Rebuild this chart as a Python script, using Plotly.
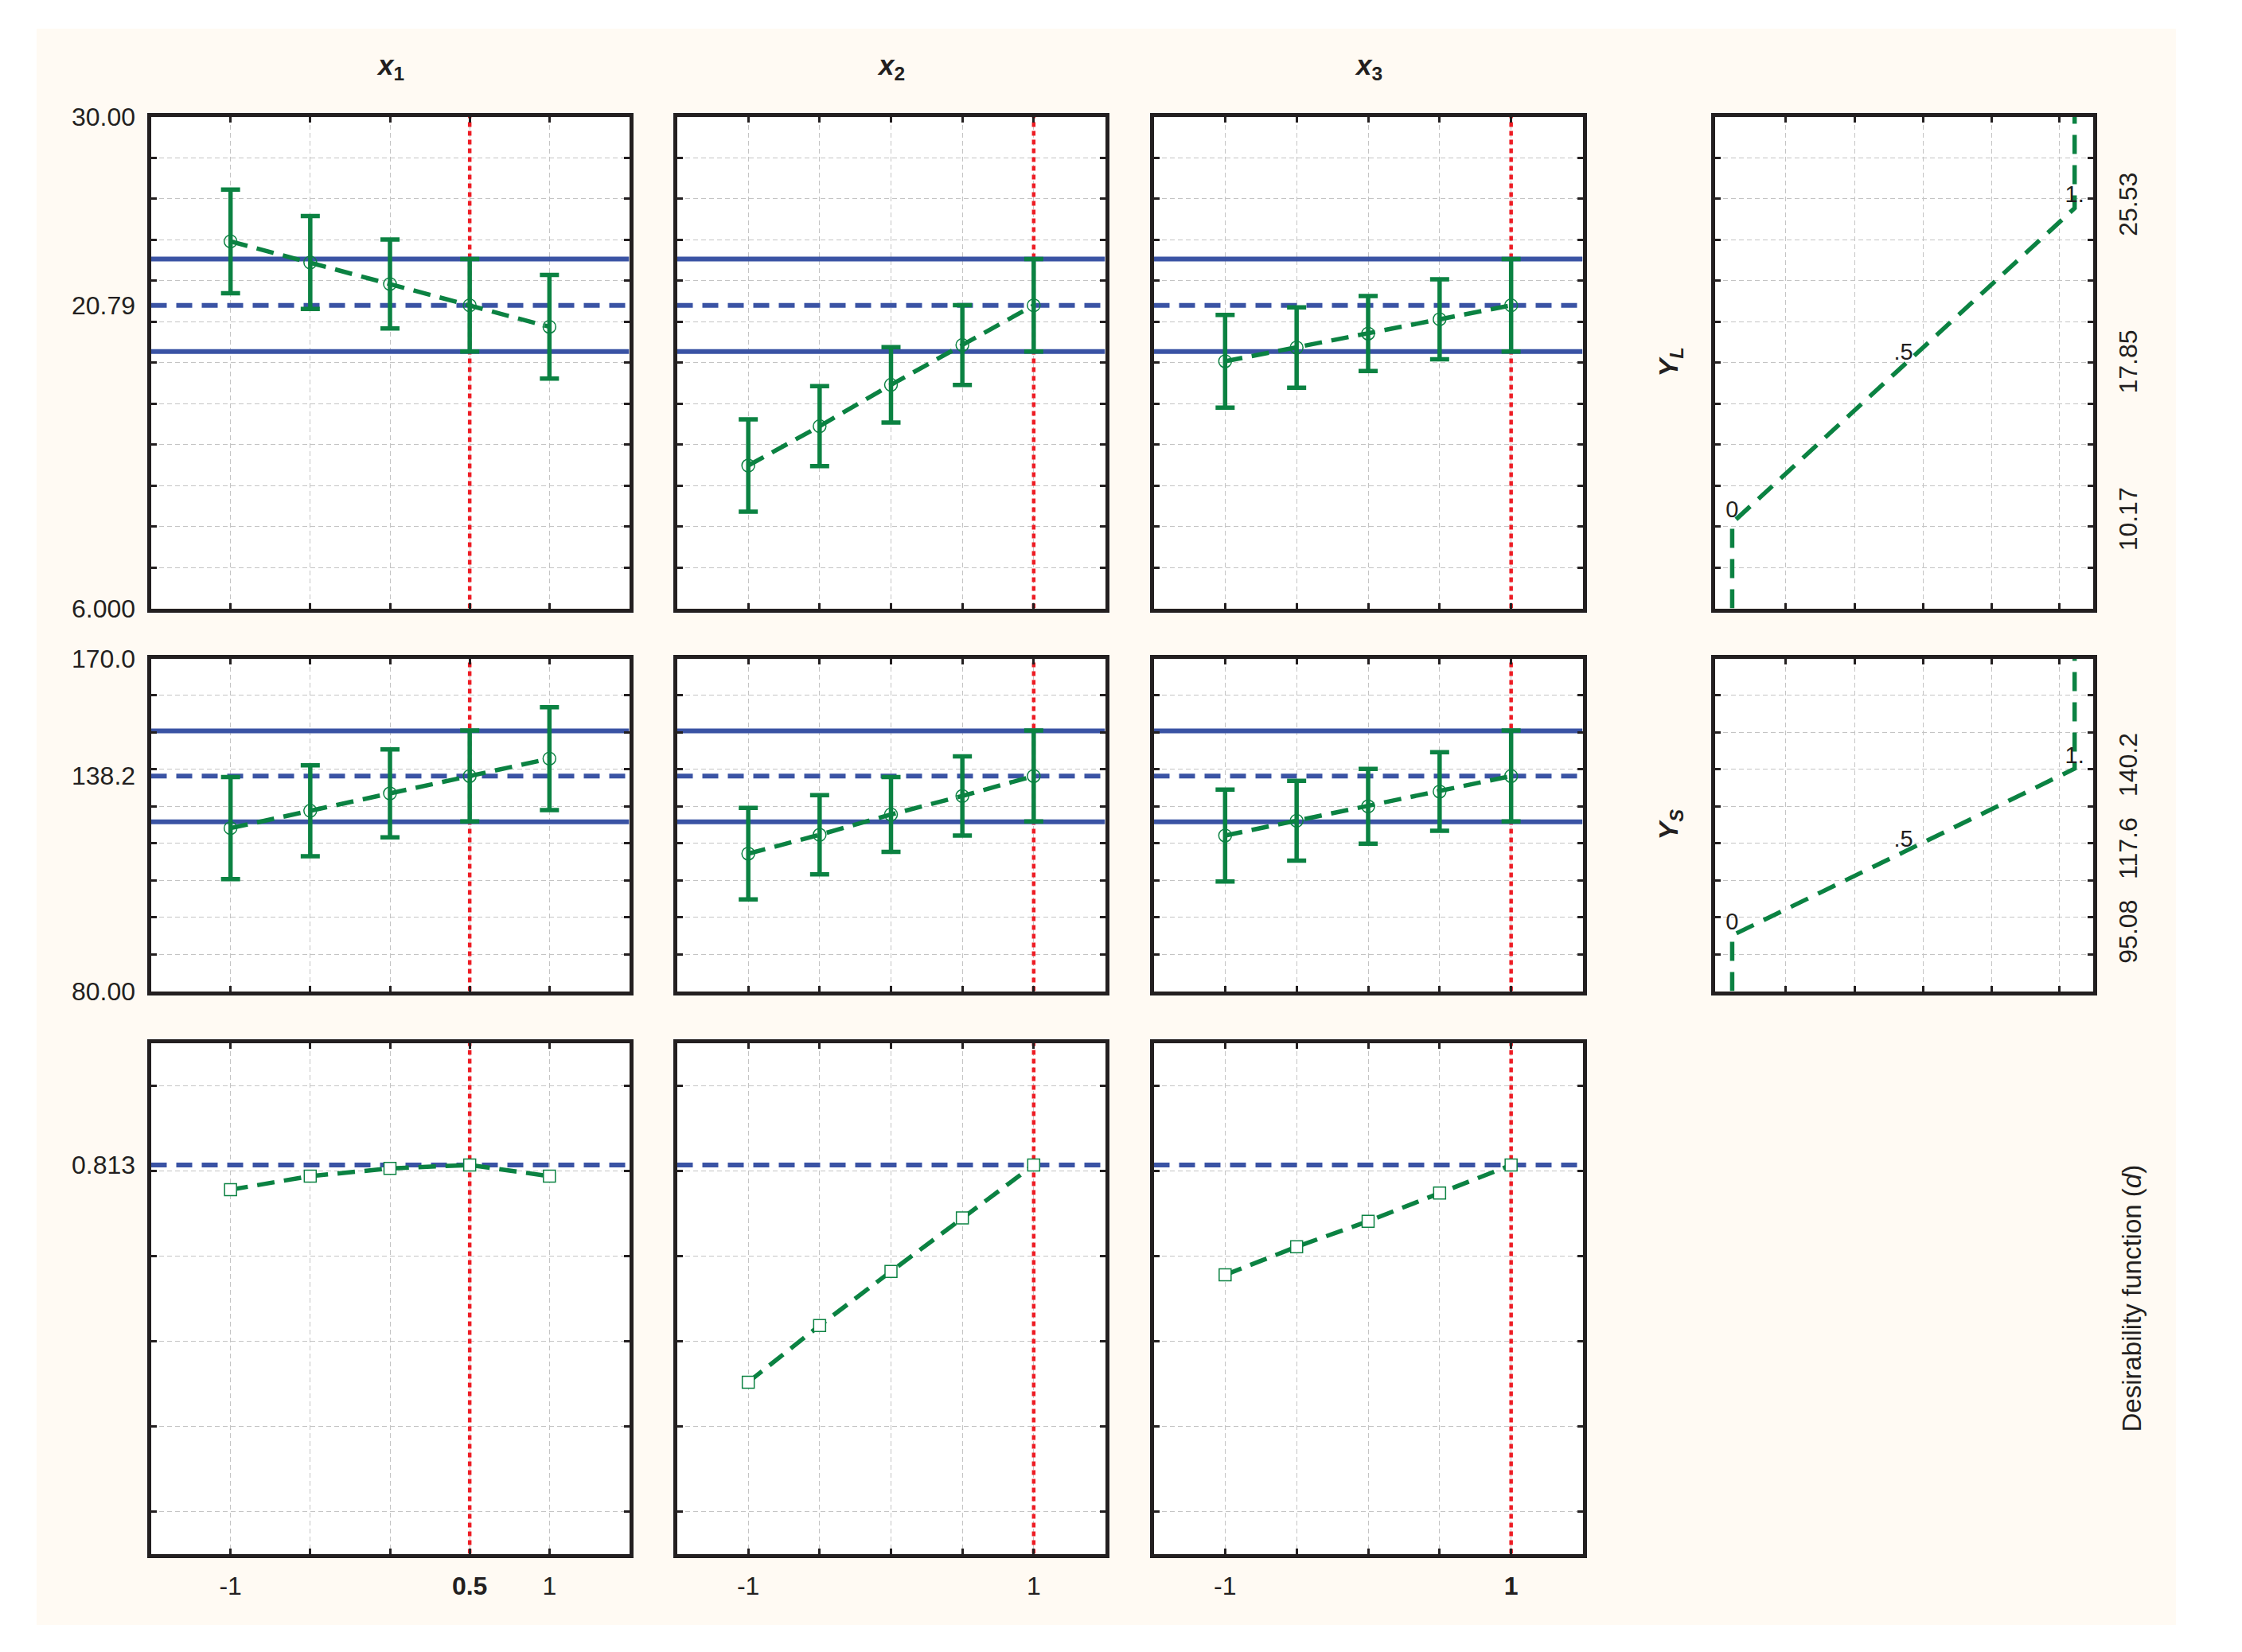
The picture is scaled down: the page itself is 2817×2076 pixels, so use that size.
import plotly.graph_objects as go

# page (reference) size and the default 8px body margin of the html page
W, H = 2817, 2076
OFF = 8
FW, FH = W - 2 * OFF, H - 2 * OFF

# ---------------- data ----------------
levels = [-1, -0.5, 0, 0.5, 1]
factor_range = [-1.5, 1.5]
current_levels = [0.5, 1, 1]
x_tick_text = [["-1", "", "", "<b>0.5</b>", "1"],
               ["-1", "", "", "", "1"],
               ["-1", "", "", "", "<b>1</b>"]]
factor_titles = ["<b><i>x</i><sub>1</sub></b>", "<b><i>x</i><sub>2</sub></b>", "<b><i>x</i><sub>3</sub></b>"]

# Response Y_L
yl_x1 = [23.91, 22.88, 21.83, 20.79, 19.74]
yl_x1_ci = [2.53, 2.27, 2.17, 2.26, 2.53]
yl_x2 = [12.97, 14.89, 16.91, 18.85, 20.79]
yl_x2_ci = [2.25, 1.95, 1.84, 1.95, 2.26]
yl_x3 = [18.06, 18.73, 19.41, 20.11, 20.79]
yl_x3_ci = [2.26, 1.96, 1.83, 1.95, 2.26]
yl_current = 20.79
yl_limits = [18.53, 23.05]
yl_range = [6.0, 30.0]
yl_ticks = [6.0, 20.79, 30.0]
yl_tick_text = ["6.000", "20.79", "30.00"]
yl_grid = [8, 10, 12, 14, 16, 18, 20, 22, 24, 26, 28]

# Response Y_S
ys_x1 = [124.1, 128.8, 133.5, 138.2, 142.9]
ys_x1_ci = [13.8, 12.3, 11.9, 12.3, 13.9]
ys_x2 = [117.2, 122.3, 127.8, 132.8, 138.2]
ys_x2_ci = [12.4, 10.7, 10.1, 10.7, 12.3]
ys_x3 = [122.1, 126.1, 130.0, 134.0, 138.2]
ys_x3_ci = [12.45, 10.78, 10.11, 10.64, 12.3]
ys_current = 138.2
ys_limits = [125.8, 150.4]
ys_range = [80.0, 170.0]
ys_ticks = [80.0, 138.2, 170.0]
ys_tick_text = ["80.00", "138.2", "170.0"]
ys_grid = [90, 100, 110, 120, 130, 140, 150, 160]

# Overall desirability d
d_x1 = [0.755, 0.787, 0.805, 0.813, 0.787]
d_x2 = [0.303, 0.436, 0.563, 0.689, 0.813]
d_x3 = [0.555, 0.621, 0.681, 0.747, 0.813]
d_current = 0.813
d_range = [-0.1, 1.1]
d_ticks = [0.813]
d_tick_text = ["0.813"]
d_grid = [0.0, 0.2, 0.4, 0.6, 0.8, 1.0]

# Desirability functions of responses
desir_levels = [0, 0.5, 1]
desir_labels = ["0", ".5", "1."]
yl_desir_values = [10.17, 17.85, 25.53]
ys_desir_values = [95.08, 117.6, 140.2]
yl_desir_text = ["10.17", "17.85", "25.53"]
ys_desir_text = ["95.08", "117.6", "140.2"]
desir_axis_range = [-0.051, 1.053]
desir_grid = [0.155, 0.357, 0.557, 0.757, 0.955]

response_titles = ["<b><i>Y</i><sub><i>L</i></sub></b>", "<b><i>Y</i><sub><i>S</i></sub></b>"]
d_title = "Desirability function (<i>d</i>)"

# ---------------- style ----------------
FONT = "Liberation Sans, Arial, sans-serif"
FRAME = "#231F20"
GRID = "#C4C4C4"
GREEN = "#0B8242"
BLUE = "#3A53A4"
RED = "#EE1D25"
CREAM = "#FFFAF3"
TICK_SIZE = 32

# panel frames in page pixels (centre of the frame line)
col_px = [(187, 793), (848, 1391), (1447, 1991), (2152, 2632)]
row_px = [(144, 767), (825, 1248), (1308, 1955)]
INSET = 2.5


def fx(px):
    return (px - OFF) / FW


def fy(py):
    return 1 - (py - OFF) / FH


def xdom(c):
    return [fx(col_px[c][0] + INSET), fx(col_px[c][1] - INSET)]


def ydom(r):
    return [fy(row_px[r][1] - INSET), fy(row_px[r][0] + INSET)]


def aid(n):
    return "" if n == 1 else str(n)


fig = go.Figure()
layout = {}
shapes = []
annotations = []

base_axis = dict(showline=True, linewidth=5, linecolor=FRAME, mirror="ticks", zeroline=False,
                 automargin=False, fixedrange=True,
                 tickfont=dict(family=FONT, size=TICK_SIZE, color=FRAME))
grid_style = dict(showgrid=True, gridcolor=GRID, gridwidth=1, griddash="6px,4px")
tick_style = dict(ticks="inside", ticklen=7, tickwidth=3, tickcolor=FRAME)

rows = [
    dict(series=[(yl_x1, yl_x1_ci), (yl_x2, yl_x2_ci), (yl_x3, yl_x3_ci)], current=yl_current,
         limits=yl_limits, rng=yl_range, ticks=yl_ticks, text=yl_tick_text, grid=yl_grid,
         desir=yl_desir_values, desir_text=yl_desir_text, title=response_titles[0]),
    dict(series=[(ys_x1, ys_x1_ci), (ys_x2, ys_x2_ci), (ys_x3, ys_x3_ci)], current=ys_current,
         limits=ys_limits, rng=ys_range, ticks=ys_ticks, text=ys_tick_text, grid=ys_grid,
         desir=ys_desir_values, desir_text=ys_desir_text, title=response_titles[1]),
]

line_dash = "22px,12px"


def add_reference_lines(xa, ya, cur_x, y_rng, cur_y, limits):
    # red dotted vertical line at the current factor level
    fig.add_trace(go.Scatter(x=[cur_x, cur_x], y=y_rng, xaxis=xa, yaxis=ya, mode="lines",
                             line=dict(color=RED, width=4.5, dash="6px,5px"),
                             showlegend=False, hoverinfo="skip"))
    for lim in limits:
        fig.add_trace(go.Scatter(x=factor_range, y=[lim, lim], xaxis=xa, yaxis=ya, mode="lines",
                                 line=dict(color=BLUE, width=6), showlegend=False, hoverinfo="skip"))
    fig.add_trace(go.Scatter(x=factor_range, y=[cur_y, cur_y], xaxis=xa, yaxis=ya, mode="lines",
                             line=dict(color=BLUE, width=6, dash="20px,12px"),
                             showlegend=False, hoverinfo="skip"))


for r, row in enumerate(rows):
    for c in range(4):
        n = r * 4 + c + 1
        xa, ya = "x" + aid(n), "y" + aid(n)
        if c < 3:
            layout["xaxis" + aid(n)] = dict(base_axis, domain=xdom(c), anchor=ya, range=factor_range,
                                            tickmode="array", tickvals=levels, ticktext=x_tick_text[c],
                                            showticklabels=False, **tick_style, **grid_style)
            layout["yaxis" + aid(n)] = dict(base_axis, domain=ydom(r), anchor=xa, range=row["rng"],
                                            tickmode="array", tickvals=row["ticks"], ticktext=row["text"],
                                            showticklabels=(c == 0), ticks="", showgrid=False,
                                            ticklabelstandoff=8,
                                            minor=dict(tickmode="array", tickvals=row["grid"], **tick_style,
                                                       **grid_style))
            add_reference_lines(xa, ya, current_levels[c], row["rng"], row["current"], row["limits"])
            vals, ci = row["series"][c]
            fig.add_trace(go.Scatter(
                x=levels, y=vals, xaxis=xa, yaxis=ya, mode="lines+markers",
                line=dict(color=GREEN, width=5.5, dash=line_dash),
                marker=dict(symbol="circle-open", size=16, color=GREEN, line=dict(width=1.5, color=GREEN)),
                error_y=dict(type="data", array=ci, symmetric=True, thickness=5.5, width=12, color=GREEN),
                showlegend=False, hoverinfo="skip"))
        else:
            layout["xaxis" + aid(n)] = dict(base_axis, domain=xdom(c), anchor=ya, range=desir_axis_range,
                                            tickmode="array", tickvals=[], showticklabels=False,
                                            ticks="", showgrid=False,
                                            minor=dict(tickmode="array", tickvals=desir_grid, **tick_style,
                                                       **grid_style))
            layout["yaxis" + aid(n)] = dict(base_axis, domain=ydom(r), anchor=xa, range=row["rng"], side="right",
                                            tickmode="array", tickvals=row["desir"], ticktext=row["desir_text"],
                                            tickangle=-90, ticks="", showgrid=False, ticklabelstandoff=12,
                                            minor=dict(tickmode="array", tickvals=row["grid"], **tick_style,
                                                       **grid_style))
            curve_x = [desir_levels[0]] + desir_levels + [desir_levels[-1]]
            curve_y = [row["rng"][0]] + row["desir"] + [row["rng"][1]]
            fig.add_trace(go.Scatter(
                x=curve_x, y=curve_y, xaxis=xa, yaxis=ya, mode="lines",
                line=dict(color=GREEN, width=5.5, dash="24px,14px"), showlegend=False, hoverinfo="skip"))
            fig.add_trace(go.Scatter(
                x=desir_levels, y=row["desir"], xaxis=xa, yaxis=ya, mode="text", text=desir_labels,
                textposition="top center", textfont=dict(family=FONT, size=29, color=FRAME),
                showlegend=False, hoverinfo="skip"))
            annotations.append(dict(xref="paper", yref="paper", x=fx(2098),
                                    y=fy((row_px[r][0] + row_px[r][1]) / 2),
                                    text=row["title"], textangle=-90, showarrow=False,
                                    xanchor="center", yanchor="middle",
                                    font=dict(family=FONT, size=34, color=FRAME)))

# Row 3: overall desirability
d_series = [d_x1, d_x2, d_x3]
for c in range(3):
    n = 9 + c
    xa, ya = "x" + aid(n), "y" + aid(n)
    layout["xaxis" + aid(n)] = dict(base_axis, domain=xdom(c), anchor=ya, range=factor_range,
                                    tickmode="array", tickvals=levels, ticktext=x_tick_text[c],
                                    showticklabels=True, ticklabelstandoff=8, **tick_style, **grid_style)
    layout["yaxis" + aid(n)] = dict(base_axis, domain=ydom(2), anchor=xa, range=d_range,
                                    tickmode="array", tickvals=d_ticks, ticktext=d_tick_text,
                                    showticklabels=(c == 0), ticks="", showgrid=False, ticklabelstandoff=8,
                                    minor=dict(tickmode="array", tickvals=d_grid, **tick_style, **grid_style))
    add_reference_lines(xa, ya, current_levels[c], d_range, d_current, [])
    fig.add_trace(go.Scatter(
        x=levels, y=d_series[c], xaxis=xa, yaxis=ya, mode="lines+markers",
        line=dict(color=GREEN, width=5.5, dash=line_dash),
        marker=dict(symbol="square", size=15, color="white", line=dict(width=1.5, color=GREEN)),
        showlegend=False, hoverinfo="skip"))

# Column titles
for c in range(3):
    annotations.append(dict(xref="paper", yref="paper", x=fx((col_px[c][0] + col_px[c][1]) / 2),
                            y=fy(84), text=factor_titles[c], showarrow=False,
                            xanchor="center", yanchor="middle",
                            font=dict(family=FONT, size=35, color=FRAME)))

annotations.append(dict(xref="paper", yref="paper", x=fx(2678), y=fy((row_px[2][0] + row_px[2][1]) / 2),
                        text=d_title, textangle=-90, showarrow=False, xanchor="center", yanchor="middle",
                        font=dict(family=FONT, size=33, color=FRAME)))

# White outer border around the cream panel (page margin itself is white)
white = dict(type="rect", xref="paper", yref="paper", fillcolor="white", line=dict(width=0), layer="below")
shapes += [
    dict(white, x0=0, x1=fx(46), y0=0, y1=1),
    dict(white, x0=fx(2734), x1=1, y0=0, y1=1),
    dict(white, x0=0, x1=1, y0=fy(36), y1=1),
    dict(white, x0=0, x1=1, y0=0, y1=fy(2042)),
]

fig.update_layout(
    width=FW, height=FH, margin=dict(l=0, r=0, t=0, b=0, pad=0, autoexpand=False),
    paper_bgcolor=CREAM, plot_bgcolor="white",
    font=dict(family=FONT, size=TICK_SIZE, color=FRAME),
    shapes=shapes, annotations=annotations, showlegend=False,
    **layout,
)

fig.write_html("out.html", config={"displayModeBar": False, "responsive": False})
